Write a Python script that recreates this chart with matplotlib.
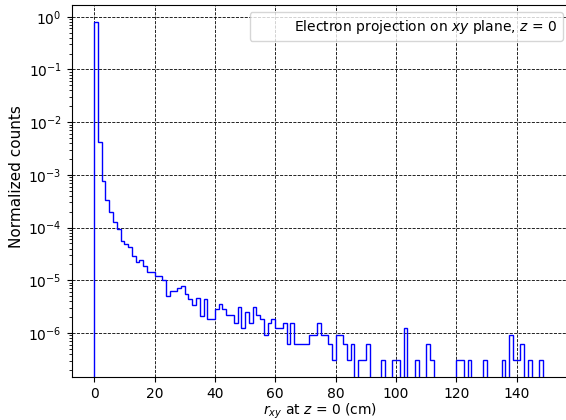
import numpy as np
import matplotlib
matplotlib.use("Agg")
import matplotlib.pyplot as plt

# Histogram of transverse radius r_xy (cm), 120 bins over [0, 150], density-normalised
bin_edges = np.linspace(0.0, 150.0, 121)
density = [
    0.79, 4.2e-3, 7.6e-4, 3.4e-4, 1.94e-4, 1.25e-4, 9.2e-5, 5.6e-5, 4.8e-5, 4.3e-5,
    2.95e-5, 2.2e-5, 2.4e-5, 1.87e-5, 1.44e-5, 1.44e-5, 1.2e-5, 1.2e-5, 1.03e-5, 5.0e-6,
    6.2e-6, 6.2e-6, 7.1e-6, 7.9e-6, 5.6e-6, 4.4e-6, 3.4e-6, 4.6e-6, 2.1e-6, 4.4e-6,
    1.86e-6, 1.86e-6, 2.8e-6, 3.6e-6, 2.8e-6, 2.2e-6, 2.2e-6, 1.55e-6, 3.1e-6, 1.24e-6,
    2.5e-6, 1.55e-6, 3.1e-6, 2.2e-6, 1.86e-6, 9.3e-7, 1.55e-6, 1.86e-6, 1.24e-6, 1.24e-6,
    1.55e-6, 6.2e-7, 1.55e-6, 6.2e-7, 6.2e-7, 6.2e-7, 6.2e-7, 9.3e-7, 9.3e-7, 1.55e-6,
    9.3e-7, 9.3e-7, 6.2e-7, 3.1e-7, 9.3e-7, 9.3e-7, 6.2e-7, 3.1e-7, 6.2e-7, 0.0,
    3.1e-7, 3.1e-7, 6.2e-7, 0.0, 0.0, 0.0, 3.1e-7, 0.0, 0.0, 3.1e-7,
    3.1e-7, 0.0, 1.24e-6, 0.0, 0.0, 3.1e-7, 0.0, 0.0, 6.2e-7, 3.1e-7,
    0.0, 0.0, 0.0, 0.0, 0.0, 0.0, 3.1e-7, 3.1e-7, 0.0, 3.1e-7,
    0.0, 0.0, 0.0, 3.1e-7, 0.0, 0.0, 0.0, 0.0, 3.1e-7, 0.0,
    9.3e-7, 3.1e-7, 3.1e-7, 6.2e-7, 0.0, 3.1e-7, 0.0, 0.0, 3.1e-7, 0.0,
]

x_ticks = [0, 20, 40, 60, 80, 100, 120, 140]
legend_text = r"Electron projection on $xy$ plane, $z$ = 0"

fig = plt.figure(figsize=(5.66, 4.2), dpi=100)
ax = fig.add_axes([71.5 / 566, 43 / 420, 498 / 566, 372 / 420])

ax.hist(bin_edges[:-1], bins=bin_edges, weights=density, histtype="step",
        color="blue", linewidth=1.0, log=True)
ax.plot([], [], " ", label=legend_text)

ax.set_xlim(-7.5, 157.5)
ax.set_ylim(10 ** -6.835, 10 ** 0.222)
ax.set_xticks(x_ticks)
ax.grid(True, which="major", linestyle="--", color="black", linewidth=0.6)
ax.set_axisbelow(True)

ax.set_xlabel(r"$r_{xy}$ at $z$ = 0 (cm)", fontsize=10, labelpad=1)
ax.set_ylabel("Normalized counts", fontsize=11)
ax.yaxis.set_label_coords(-0.096, 0.54)
ax.tick_params(labelsize=10)
ax.legend(loc="upper right", fontsize=10)

fig.savefig("out.png", dpi=100)
